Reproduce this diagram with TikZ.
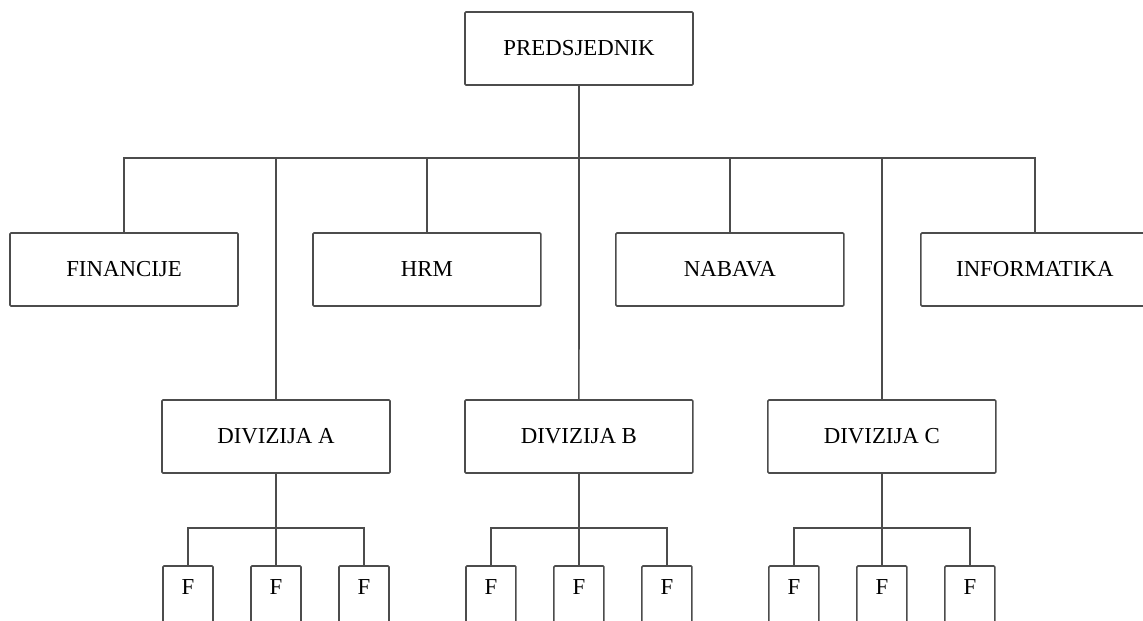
\documentclass[tikz,border=0pt]{standalone}
\usepackage{fontspec}
\setmainfont{Liberation Serif}
\usetikzlibrary{positioning}

\begin{document}
\begin{tikzpicture}[x=0.02cm, y=-0.02cm,
  link/.style={draw=black!70, line width=0.9pt},
  unit/.style={draw=black!70, line width=0.9pt, rounded corners=0.6pt,
    minimum width=4.56cm, minimum height=1.46cm, inner sep=0pt, outer sep=0pt,
    font=\fontsize{13pt}{15pt}\selectfont},
  fbox/.style={draw=black!70, line width=0.9pt, rounded corners=0.6pt,
    minimum width=1cm, inner sep=0pt, outer sep=0pt, text height=0.57cm,
    text depth=0.7cm, font=\fontsize{13pt}{15pt}\selectfont}]
 \useasboundingbox (0,0) rectangle (1143,621);
 \clip (0,0) rectangle (1143,621);
 \node[unit] (pred) at (579,48.5) {PREDSJEDNIK};
 \node[unit] (fin) at (124,269.5) {FINANCIJE};
 \node[unit, right=1.5cm of fin] (hrm) {HRM};
 \node[unit, right=1.5cm of hrm] (nab) {NABAVA};
 \node[unit, right=1.54cm of nab] (inf) {INFORMATIKA};
 \node[unit] (divA) at (276,436.5) {DIVIZIJA A};
 \node[unit, right=1.5cm of divA] (divB) {DIVIZIJA B};
 \node[unit, right=1.5cm of divB] (divC) {DIVIZIJA C};
 \node[fbox, below=1.86cm of divA] (fA2) {F};
 \node[fbox, left=0.76cm of fA2] (fA1) {F};
 \node[fbox, right=0.76cm of fA2] (fA3) {F};
 \node[fbox, below=1.86cm of divB] (fB2) {F};
 \node[fbox, left=0.76cm of fB2] (fB1) {F};
 \node[fbox, right=0.76cm of fB2] (fB3) {F};
 \node[fbox, below=1.86cm of divC] (fC2) {F};
 \node[fbox, left=0.76cm of fC2] (fC1) {F};
 \node[fbox, right=0.76cm of fC2] (fC3) {F};
 \coordinate (bus) at (0,158);
 \coordinate (sub) at (0,528);
 \draw[link] (pred) -- (divB);
 \draw[link] (fin.north) -- (fin.north |- bus) -- (inf.north |- bus) -- (inf.north);
 \draw[link] (hrm.north) -- (hrm.north |- bus);
 \draw[link] (nab.north) -- (nab.north |- bus);
 \draw[link] (divA.north) -- (divA.north |- bus);
 \draw[link] (divC.north) -- (divC.north |- bus);
 \draw[link] (divA) -- (fA2);
 \draw[link] (fA1.north) -- (fA1.north |- sub) -- (fA3.north |- sub) -- (fA3.north);
 \draw[link] (divB) -- (fB2);
 \draw[link] (fB1.north) -- (fB1.north |- sub) -- (fB3.north |- sub) -- (fB3.north);
 \draw[link] (divC) -- (fC2);
 \draw[link] (fC1.north) -- (fC1.north |- sub) -- (fC3.north |- sub) -- (fC3.north);
\end{tikzpicture}
\end{document}
